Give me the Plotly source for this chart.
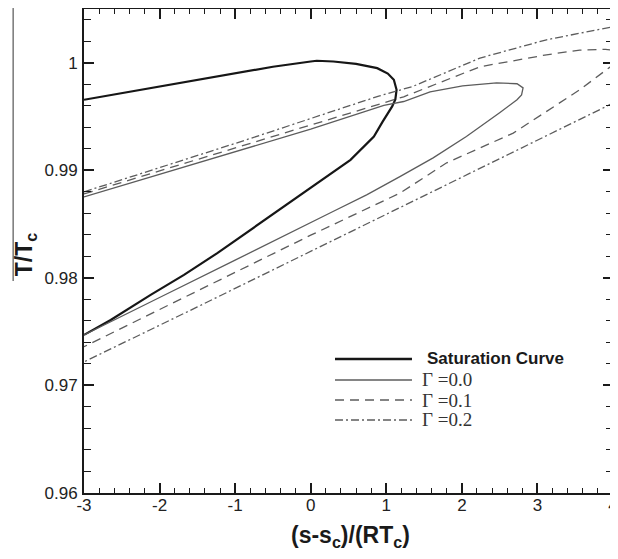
import plotly.graph_objects as go

# saturation curve (closed loop: upper branch, nose, lower branch)
sat_x = [-3, -2.5, -2, -1.5, -1, -0.5, 0.0, 0.08, 0.3, 0.6, 0.88, 1.02, 1.10, 1.136,
         1.12, 1.078, 0.95, 0.836, 0.527, 0.152, -0.354, -0.575, -0.972, -1.236,
         -1.677, -2.118, -2.647, -3]
sat_T = [0.99656, 0.99717, 0.99779, 0.9984, 0.99901, 0.99963, 1.00012, 1.00019, 1.00012,
         0.9999, 0.9995, 0.9990, 0.99842, 0.99749, 0.9966, 0.99594, 0.9945, 0.99314,
         0.99098, 0.98912, 0.98663, 0.98555, 0.98353, 0.9823, 0.98028, 0.97842,
         0.97609, 0.9747]

# Gamma = 0.0
g0_x = [-3, -2, -1, 0, 0.968, 1.23, 1.58, 2.01, 2.46, 2.73, 2.81, 2.79, 2.73, 2.50,
        2.06, 1.62, 1.18, 0.74, 0.295, -0.143, -1, -2, -3]
g0_T = [0.98753, 0.98963, 0.99173, 0.99383, 0.99605, 0.99640, 0.9973, 0.99786, 0.99814,
        0.99805, 0.99767, 0.99702, 0.99656, 0.99535, 0.99314, 0.99116, 0.98942, 0.98772,
        0.98617, 0.98462, 0.98165, 0.97818, 0.9747]

# Gamma = 0.1
g1_x = [-3, -1, 1.23, 2.24, 3.12, 3.56, 3.9, 4.1, 4.22, 4.1, 4.0, 3.56, 2.68, 1.8,
        1.18, 0, -1, -2, -3]
g1_T = [0.98781, 0.99209, 0.99684, 0.99963, 1.00074, 1.00118, 1.00125, 1.0011, 1.0006,
        1.0001, 0.99981, 0.99749, 0.99346, 0.9907, 0.98788, 0.98397, 0.98051, 0.97706,
        0.9736]

# Gamma = 0.2
g2_x = [-3, -1, 0.9, 1.35, 2.24, 3.12, 4.0, 4.6, 5.0, 4.6, 4.0, 3, 1.5, 0, -1.5, -3]
g2_T = [0.9880, 0.9925, 0.9969, 0.9978, 1.00044, 1.00214, 1.00335, 1.0038, 1.0010,
        0.9978, 0.99625, 0.9928, 0.9876, 0.98245, 0.9773, 0.97219]

x_ticks = [-3, -2, -1, 0, 1, 2, 3, 4]
x_ticktext = ["-3", "-2", "-1", "0", "1", "2", "3", "4"]
y_ticks = [0.96, 0.97, 0.98, 0.99, 1.0]
y_ticktext = ["0.96", "0.97", "0.98", "0.99", "1"]

legend_names = ["Saturation Curve", "\u0393 =0.0", "\u0393 =0.1", "\u0393 =0.2"]

GREY = "#5c5c5c"
DASH1 = "9px,6px"
DASH2 = "8px,3px,2px,3px"

fig = go.Figure()
fig.add_trace(go.Scatter(x=sat_x, y=sat_T, mode="lines", line=dict(color="#161616", width=2.2)))
fig.add_trace(go.Scatter(x=g0_x, y=g0_T, mode="lines", line=dict(color=GREY, width=1.3)))
fig.add_trace(go.Scatter(x=g1_x, y=g1_T, mode="lines", line=dict(color=GREY, width=1.3, dash=DASH1)))
fig.add_trace(go.Scatter(x=g2_x, y=g2_T, mode="lines", line=dict(color=GREY, width=1.3, dash=DASH2)))

# hand-drawn legend, like the original
leg_y = [0.277, 0.2335, 0.192, 0.151]
leg_style = [("#161616", 2.4, "solid"), (GREY, 1.5, "solid"), (GREY, 1.5, DASH1), (GREY, 1.5, DASH2)]
for i, name in enumerate(legend_names):
    col, w, d = leg_style[i]
    fig.add_shape(type="line", xref="paper", yref="paper", x0=0.4745, x1=0.62,
                  y0=leg_y[i], y1=leg_y[i], line=dict(color=col, width=w, dash=d))
    if i == 0:
        fig.add_annotation(x=0.645, y=leg_y[i], xref="paper", yref="paper", text="<b>" + name + "</b>",
                           showarrow=False, xanchor="left", yanchor="middle",
                           font=dict(family="Liberation Sans", size=17, color="#1a1a1a"))
    else:
        fig.add_annotation(x=0.635, y=leg_y[i], xref="paper", yref="paper", text=name,
                           showarrow=False, xanchor="left", yanchor="middle",
                           font=dict(family="Liberation Serif", size=19, color="#333"))

# axis titles
fig.add_annotation(x=0.503, y=-0.09, xref="paper", yref="paper", xanchor="center", yanchor="middle",
                   text="<b>(s-s<sub>c</sub>)/(RT<sub>c</sub>)</b>", showarrow=False,
                   font=dict(family="Liberation Sans", size=23, color="#1a1a1a"))
fig.add_annotation(x=-0.11, y=0.493, xref="paper", yref="paper", textangle=-90,
                   xanchor="center", yanchor="middle",
                   text="<b>T/T<sub>c</sub></b>", showarrow=False,
                   font=dict(family="Liberation Sans", size=23, color="#1a1a1a"))
# stray vertical rule at the far left of the scan
fig.add_shape(type="line", xref="paper", yref="paper", x0=-0.134, x1=-0.134, y0=1.002, y1=0.438,
              line=dict(color="#333", width=1))

axis_common = dict(showline=True, linecolor="#1a1a1a", linewidth=2, mirror="ticks",
                   ticks="inside", ticklen=10, tickwidth=2, tickcolor="#1a1a1a",
                   showgrid=False, zeroline=False, automargin=False,
                   tickfont=dict(family="Liberation Sans", size=17, color="#222"))
fig.update_xaxes(range=[-3, 4], tickvals=x_ticks, ticktext=x_ticktext, ticklabelstandoff=-4,
                 minor=dict(dtick=0.2, ticks="inside", ticklen=5, tickwidth=1, tickcolor="#1a1a1a"),
                 **axis_common)
fig.update_yaxes(range=[0.96, 1.005], tickvals=y_ticks, ticktext=y_ticktext, ticklabelstandoff=1,
                 minor=dict(dtick=0.002, ticks="inside", ticklen=7, tickwidth=1, tickcolor="#1a1a1a"),
                 **axis_common)
# page body adds an 8px offset, so margins are shifted to land the frame where the original is
fig.update_layout(width=618, height=559, margin=dict(l=76, r=13, t=1, b=74),
                  plot_bgcolor="white", paper_bgcolor="white", showlegend=False)
fig.write_html("out.html")
